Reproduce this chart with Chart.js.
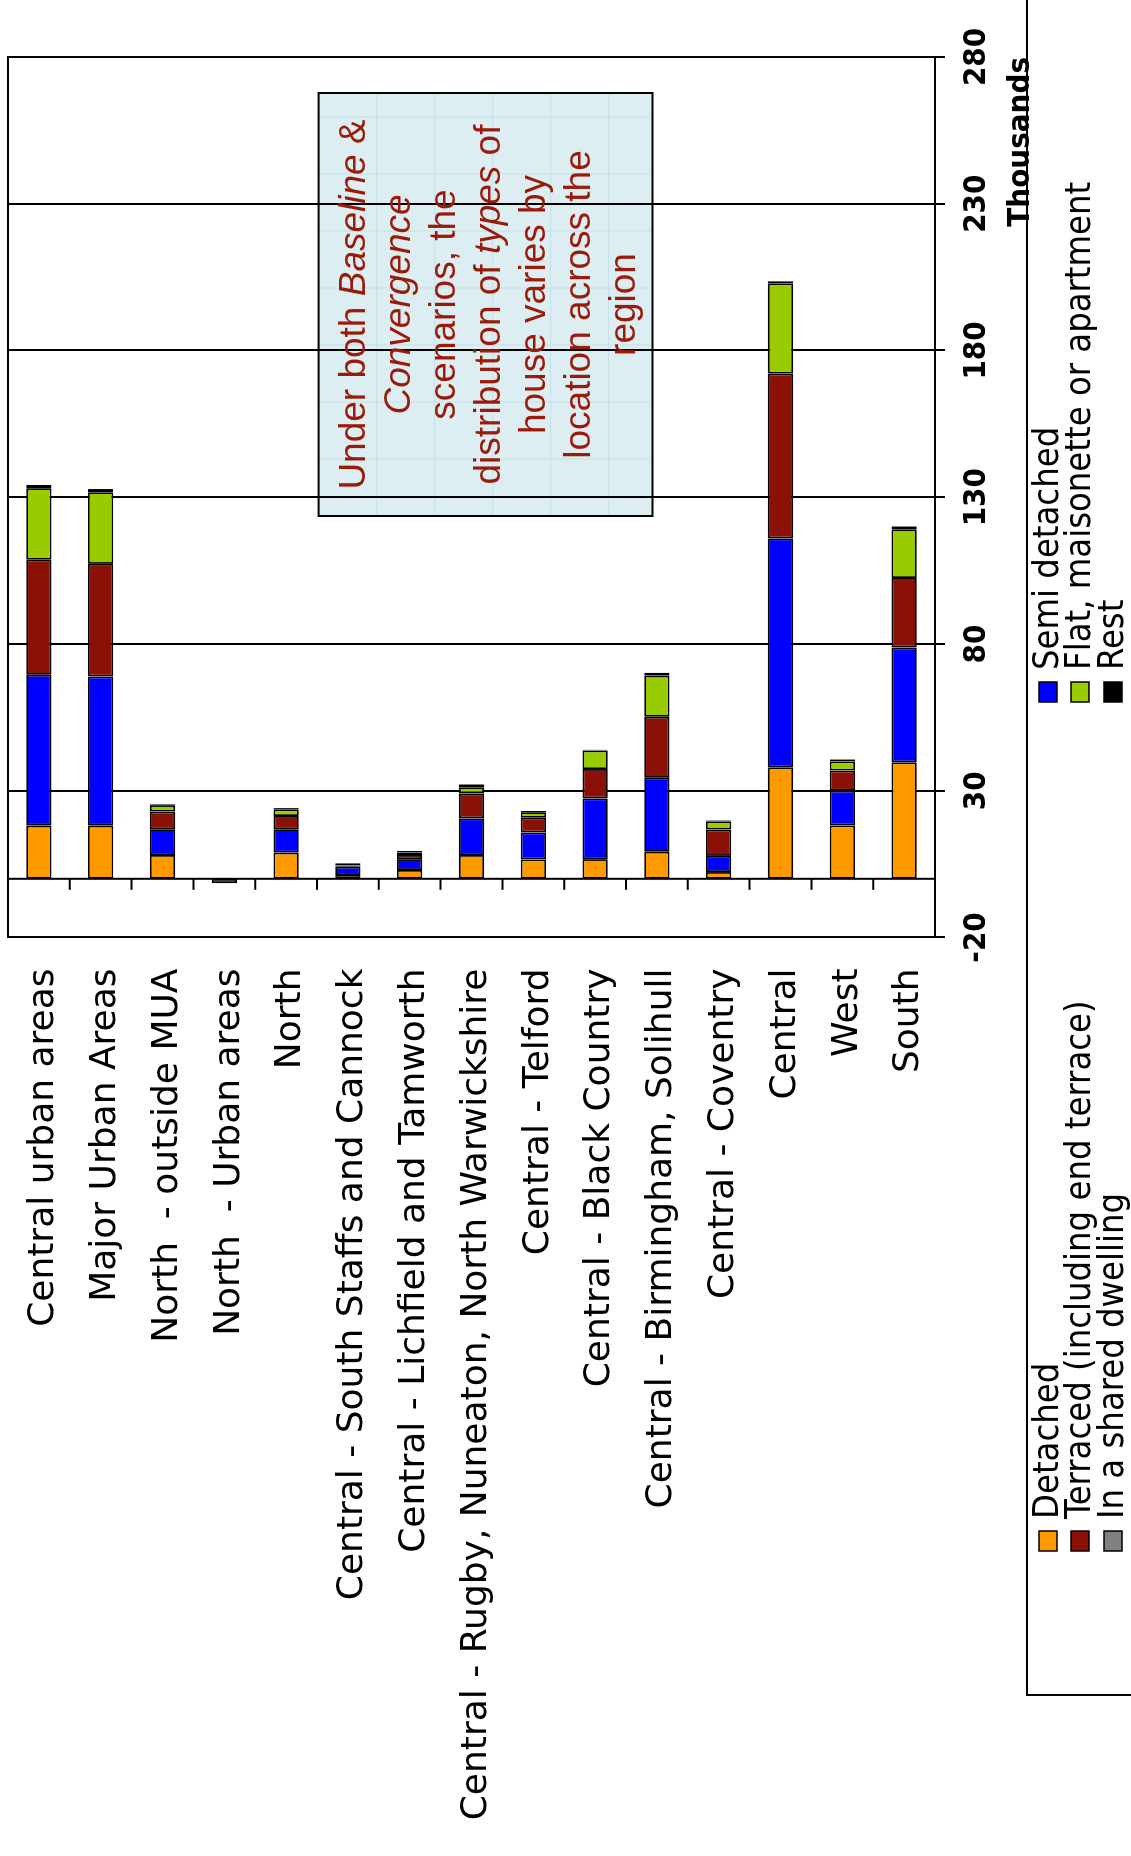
<!DOCTYPE html>
<html>
<head>
<meta charset="utf-8">
<script src="https://cdn.jsdelivr.net/npm/chart.js@4.4.0/dist/chart.umd.min.js"></script>
<style>
  html, body { margin: 0; padding: 0; background: #fff; overflow: hidden; }
  /* the chart is laid out as a horizontal bar chart and turned a quarter turn */
  #stage {
    position: absolute; left: 0; top: 0;
    width: 1856px; height: 1131px;
    transform-origin: 0 0;
    transform: translate(0, 1856px) rotate(-90deg);
  }
  canvas { display: block; }
</style>
</head>
<body>
<div id="stage"><canvas id="chart" width="1856" height="1131"></canvas></div>
<script>
// Dwellings by house type and location (thousands)
const categories = [
  "Central urban areas",
  "Major Urban Areas",
  "North  - outside MUA",
  "North  - Urban areas",
  "North",
  "Central - South Staffs and Cannock",
  "Central - Lichfield and Tamworth",
  "Central - Rugby, Nuneaton, North Warwickshire",
  "Central - Telford",
  "Central - Black Country",
  "Central - Birmingham, Solihull",
  "Central - Coventry",
  "Central",
  "West",
  "South"
];

const detached = [18.1, 18.1, 8.1, 0, 8.9, 1.3, 3.0, 8.1, 6.6, 6.7, 9.2, 2.3, 38.0, 18.2, 39.7];
const semiDetached = [51.4, 50.8, 8.8, 0, 8.0, 2.8, 3.7, 12.5, 9.2, 20.7, 25.2, 5.5, 78.0, 11.8, 39.1];
const terraced = [39.2, 38.4, 6.0, 0, 4.5, 0.4, 1.4, 8.5, 5.0, 10.0, 20.8, 9.0, 56.1, 6.9, 23.7];
const flat = [24.4, 24.4, 2.2, 0, 2.3, 0.2, 0.8, 2.1, 1.9, 6.3, 14.0, 2.8, 30.8, 3.1, 16.6];
const sharedDwelling = [0, 0, 0, 0, 0, 0, 0, 0, 0, 0, 0, 0, 0, 0, 0];
const rest = [1.1, 1.1, 0.3, -1.5, 0.4, 0.6, 0.6, 1.0, 0.4, 0.3, 1.0, 0.3, 0.7, 0.7, 1.0];

const seriesNames = [
  "Detached",
  "Semi detached",
  "Terraced (including end terrace)",
  "Flat, maisonette or apartment",
  "In a shared dwelling",
  "Rest"
];
const seriesValues = [detached, semiDetached, terraced, flat, sharedDwelling, rest];
const seriesColors = ["#FF9900", "#0000FF", "#8B1005", "#99CC00", "#808080", "#000000"];

const valueTicks = [-20, 30, 80, 130, 180, 230, 280];
const axisTitle = "Thousands";

// Text of the note, each line split into [text, italic] runs
const noteLines = [
  [["Under both ", false], ["Baseline", true], [" &", false]],
  [["Convergence", true]],
  [["scenarios, the", false]],
  [["distribution of ", false], ["types", true], [" of", false]],
  [["house varies by", false]],
  [["location across the", false]],
  [["region", false]]
];

const CONDENSED = "'DejaVu Sans Condensed', 'DejaVu Sans', sans-serif";
const NOTE = { left: 1340, right: 1763, top: 318.6, bottom: 652.5, baseline: 365, leading: 45 };
const LEGEND = { frameLeft: 161, frameTop: 1027, boxX: [305, 1154], rowY: [1048, 1080, 1113] };

// white page, note panel fill (drawn under the grid)
const backdrop = {
  id: 'backdrop',
  beforeDraw(chart) {
    const ctx = chart.ctx;
    ctx.save();
    ctx.fillStyle = '#fff';
    ctx.fillRect(0, 0, chart.width, chart.height);
    ctx.fillStyle = '#DCEEF1';
    ctx.fillRect(NOTE.left, NOTE.top, NOTE.right - NOTE.left, NOTE.bottom - NOTE.top);
    ctx.strokeStyle = 'rgba(190,222,230,0.8)';
    ctx.lineWidth = 1;
    for (let x = NOTE.left + 57; x < NOTE.right; x += 57) {
      ctx.beginPath(); ctx.moveTo(x, NOTE.top); ctx.lineTo(x, NOTE.bottom); ctx.stroke();
    }
    for (let y = NOTE.top + 58; y < NOTE.bottom; y += 58) {
      ctx.beginPath(); ctx.moveTo(NOTE.left, y); ctx.lineTo(NOTE.right, y); ctx.stroke();
    }
    ctx.restore();
  }
};

// category axis drawn at zero, with tick marks between categories
const zeroAxis = {
  id: 'zeroAxis',
  beforeDatasetsDraw(chart) {
    const { ctx, chartArea } = chart;
    const xs = chart.scales.x, ys = chart.scales.y;
    const x0 = xs.getPixelForValue(0);
    ctx.save();
    ctx.strokeStyle = '#000';
    ctx.lineWidth = 2;
    ctx.beginPath();
    ctx.moveTo(x0, chartArea.top);
    ctx.lineTo(x0, chartArea.bottom);
    for (let i = 0; i < categories.length - 1; i++) {
      const y = (ys.getPixelForValue(i) + ys.getPixelForValue(i + 1)) / 2;
      ctx.moveTo(x0, y);
      ctx.lineTo(x0 - 11, y);
    }
    ctx.stroke();

    // note border and text
    ctx.lineWidth = 2;
    ctx.strokeRect(NOTE.left, NOTE.top, NOTE.right - NOTE.left, NOTE.bottom - NOTE.top);
    const cx = (NOTE.left + NOTE.right) / 2;
    ctx.fillStyle = '#9B1B0B';
    ctx.textBaseline = 'alphabetic';
    ctx.textAlign = 'left';
    const fontFor = it => (it ? 'italic ' : '') + "37px 'Liberation Sans', Arial, sans-serif";
    noteLines.forEach((runs, i) => {
      const y = NOTE.baseline + i * NOTE.leading;
      const widths = runs.map(([t, it]) => { ctx.font = fontFor(it); return ctx.measureText(t).width; });
      let x = cx - widths.reduce((a, b) => a + b, 0) / 2;
      runs.forEach(([t, it], k) => { ctx.font = fontFor(it); ctx.fillText(t, x, y); x += widths[k]; });
    });
    ctx.restore();
  }
};

// outer frame of the plot and the two-column legend
const frameAndLegend = {
  id: 'frameAndLegend',
  afterDraw(chart) {
    const { ctx, chartArea } = chart;
    ctx.save();
    ctx.strokeStyle = '#000';
    ctx.lineWidth = 2;
    ctx.beginPath();
    ctx.moveTo(chartArea.left, chartArea.top);
    ctx.lineTo(chartArea.right, chartArea.top);
    ctx.lineTo(chartArea.right, chartArea.bottom);
    ctx.stroke();

    ctx.strokeRect(LEGEND.frameLeft, LEGEND.frameTop, 2000, 400);
    ctx.font = "36px " + CONDENSED;
    ctx.textBaseline = 'middle';
    ctx.textAlign = 'left';
    chart.data.datasets.forEach((ds, i) => {
      const bx = LEGEND.boxX[i % 2];
      const cy = LEGEND.rowY[Math.floor(i / 2)];
      ctx.fillStyle = ds.backgroundColor;
      ctx.fillRect(bx, cy - 9, 20, 18);
      ctx.lineWidth = 1.5;
      ctx.strokeRect(bx, cy - 9, 20, 18);
      ctx.fillStyle = '#000';
      ctx.fillText(ds.label, bx + 32, cy + 1);
    });
    ctx.restore();
  }
};

const datasets = seriesNames.map((name, i) => ({
  label: name,
  data: seriesValues[i],
  backgroundColor: seriesColors[i],
  borderColor: '#000',
  borderWidth: 1.8,
  borderSkipped: false,
  barPercentage: 0.41,
  categoryPercentage: 1
}));

new Chart(document.getElementById('chart'), {
  type: 'bar',
  data: { labels: categories, datasets },
  plugins: [backdrop, zeroAxis, frameAndLegend],
  options: {
    indexAxis: 'y',
    responsive: false,
    animation: false,
    devicePixelRatio: 1,
    layout: { padding: { left: 0, top: 8, right: 57, bottom: 91 } },
    plugins: { legend: { display: false }, tooltip: { enabled: false } },
    scales: {
      x: {
        type: 'linear',
        position: 'bottom',
        stacked: true,
        min: valueTicks[0],
        max: valueTicks[valueTicks.length - 1],
        afterBuildTicks(s) { s.ticks = valueTicks.map(v => ({ value: v })); },
        afterFit(s) { s.height = 105; s.paddingLeft = 0; s.paddingRight = 0; },
        grid: { color: '#000', lineWidth: 2, drawTicks: true, tickLength: 10, tickColor: '#000', tickWidth: 2 },
        border: { display: true, color: '#000', width: 2 },
        ticks: { color: '#000', font: { family: CONDENSED, size: 31, weight: 'bold' }, padding: 13, maxRotation: 0, autoSkip: false },
        title: { display: true, text: axisTitle, align: 'end', color: '#000', font: { family: CONDENSED, size: 31, weight: 'bold' }, padding: 0 }
      },
      y: {
        type: 'category',
        stacked: true,
        offset: true,
        afterFit(s) { s.width = 918.5; s.paddingTop = 0; s.paddingBottom = 0; },
        grid: { display: false, drawTicks: false },
        border: { display: true, color: '#000', width: 2 },
        ticks: { color: '#000', font: { family: "'DejaVu Sans', Verdana, sans-serif", size: 36 }, padding: 31, labelOffset: 5, autoSkip: false }
      }
    }
  }
});
</script>
</body>
</html>
